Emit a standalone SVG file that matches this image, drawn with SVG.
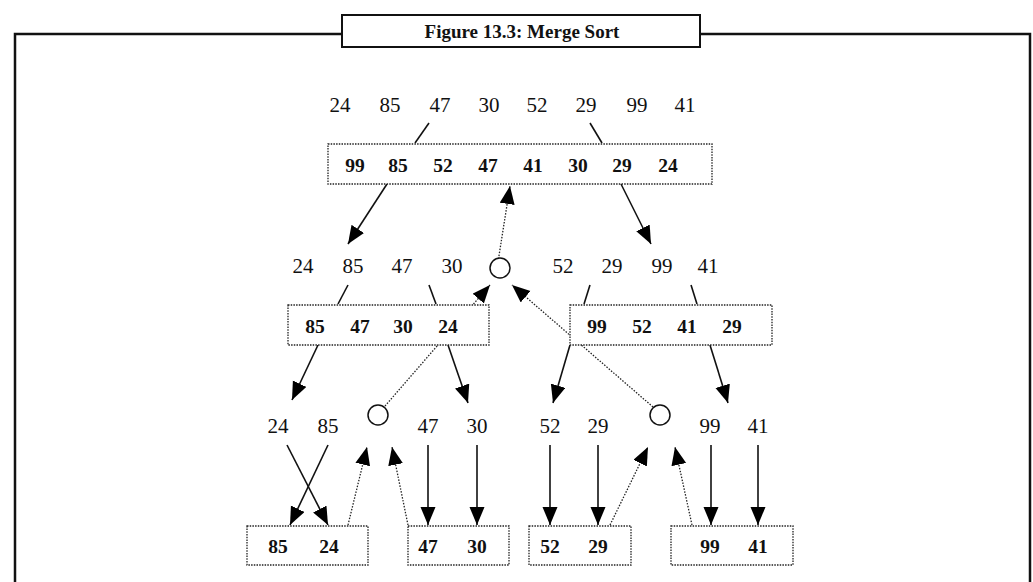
<svg xmlns="http://www.w3.org/2000/svg" width="1033" height="582" viewBox="0 0 1033 582">
<style>
.num{font-family:"Liberation Serif","Times New Roman",serif;font-size:21px;text-anchor:middle;fill:#111}
.bnum{font-family:"Liberation Serif","Times New Roman",serif;font-size:19.5px;font-weight:bold;text-anchor:middle;fill:#111}
.box{fill:#fff;stroke:#222;stroke-width:1.3;stroke-dasharray:1.5 1.2}
.solid{stroke:#111;stroke-width:1.6;fill:none}
.arr{stroke:#111;stroke-width:1.6;fill:none;marker-end:url(#ah)}
.darr{stroke:#222;stroke-width:1.3;stroke-dasharray:1.5 1.5;fill:none;marker-end:url(#ah)}
.circ{fill:#fff;stroke:#111;stroke-width:1.5}
</style>
<defs>
<marker id="ah" markerUnits="userSpaceOnUse" markerWidth="20" markerHeight="16" refX="18" refY="7.5" orient="auto">
<path d="M0,0 L18,7.5 L0,15 z" fill="#000"/>
</marker>
</defs>
<rect width="1033" height="582" fill="#fff"/>
<g id="frame">
<rect x="15" y="34" width="1015" height="600" fill="none" stroke="#111" stroke-width="2.5"/>
<rect x="342" y="15" width="358" height="32" fill="#fff" stroke="#111" stroke-width="2"/>
<text x="522" y="38" style="font-family:'Liberation Serif','Times New Roman',serif;font-size:19px;font-weight:bold;text-anchor:middle;fill:#111">Figure 13.3: Merge Sort</text>
</g>
<g id="connectors">
<line class="solid" x1="429" y1="123" x2="415" y2="143"/>
<line class="solid" x1="590" y1="123" x2="602" y2="143"/>
<line class="arr" x1="387" y1="184" x2="348" y2="244"/>
<line class="arr" x1="621" y1="184" x2="651" y2="244"/>
<line class="darr" x1="498" y1="262" x2="510" y2="186"/>
<line class="solid" x1="348" y1="285" x2="338" y2="304"/>
<line class="solid" x1="429" y1="285" x2="436" y2="304"/>
<line class="solid" x1="590" y1="285" x2="584" y2="304"/>
<line class="solid" x1="691" y1="285" x2="697" y2="304"/>
<line class="darr" x1="385" y1="406" x2="490" y2="285"/>
<line class="darr" x1="653" y1="407" x2="512" y2="285"/>
<line class="arr" x1="318" y1="345" x2="292" y2="400"/>
<line class="arr" x1="448" y1="345" x2="468" y2="403"/>
<line class="arr" x1="570" y1="345" x2="553" y2="403"/>
<line class="arr" x1="710" y1="345" x2="728" y2="403"/>
<line class="arr" x1="287" y1="445" x2="328" y2="525"/>
<line class="arr" x1="328" y1="445" x2="290" y2="525"/>
<line class="darr" x1="348" y1="525" x2="367" y2="447"/>
<line class="darr" x1="408" y1="525" x2="392" y2="447"/>
<line class="arr" x1="428" y1="445" x2="428" y2="525"/>
<line class="arr" x1="477" y1="445" x2="477" y2="525"/>
<line class="arr" x1="550" y1="445" x2="550" y2="525"/>
<line class="arr" x1="598" y1="445" x2="598" y2="525"/>
<line class="darr" x1="610" y1="525" x2="648" y2="447"/>
<line class="darr" x1="692" y1="525" x2="675" y2="447"/>
<line class="arr" x1="711" y1="445" x2="711" y2="525"/>
<line class="arr" x1="758" y1="445" x2="758" y2="525"/>
</g>
<g id="top-row">
<text class="num" x="340" y="112">24</text>
<text class="num" x="390" y="112">85</text>
<text class="num" x="440" y="112">47</text>
<text class="num" x="489" y="112">30</text>
<text class="num" x="537" y="112">52</text>
<text class="num" x="586" y="112">29</text>
<text class="num" x="637" y="112">99</text>
<text class="num" x="685" y="112">41</text>
</g>
<g id="box-top">
<rect class="box" x="328" y="144" width="384" height="40"/>
<text class="bnum" x="355" y="172">99</text>
<text class="bnum" x="398" y="172">85</text>
<text class="bnum" x="443" y="172">52</text>
<text class="bnum" x="488" y="172">47</text>
<text class="bnum" x="533" y="172">41</text>
<text class="bnum" x="578" y="172">30</text>
<text class="bnum" x="622" y="172">29</text>
<text class="bnum" x="668" y="172">24</text>
</g>
<g id="mid-row">
<text class="num" x="303" y="273">24</text>
<text class="num" x="353" y="273">85</text>
<text class="num" x="402" y="273">47</text>
<text class="num" x="452" y="273">30</text>
<circle class="circ" cx="500" cy="268" r="10"/>
<text class="num" x="563" y="273">52</text>
<text class="num" x="612" y="273">29</text>
<text class="num" x="662" y="273">99</text>
<text class="num" x="708" y="273">41</text>
</g>
<g id="box-mid-left">
<rect class="box" x="288" y="305" width="201" height="40"/>
<text class="bnum" x="315" y="333">85</text>
<text class="bnum" x="360" y="333">47</text>
<text class="bnum" x="403" y="333">30</text>
<text class="bnum" x="448" y="333">24</text>
</g>
<g id="box-mid-right">
<rect class="box" x="570" y="305" width="202" height="40"/>
<text class="bnum" x="597" y="333">99</text>
<text class="bnum" x="642" y="333">52</text>
<text class="bnum" x="687" y="333">41</text>
<text class="bnum" x="732" y="333">29</text>
</g>
<g id="low-row">
<text class="num" x="278" y="433">24</text>
<text class="num" x="328" y="433">85</text>
<circle class="circ" cx="378" cy="415" r="10"/>
<text class="num" x="428" y="433">47</text>
<text class="num" x="477" y="433">30</text>
<text class="num" x="550" y="433">52</text>
<text class="num" x="598" y="433">29</text>
<circle class="circ" cx="660" cy="415" r="10"/>
<text class="num" x="710" y="433">99</text>
<text class="num" x="758" y="433">41</text>
</g>
<g id="box-b1">
<rect class="box" x="247" y="526" width="121" height="39"/>
<text class="bnum" x="278" y="553">85</text>
<text class="bnum" x="329" y="553">24</text>
</g>
<g id="box-b2">
<rect class="box" x="408" y="526" width="101" height="39"/>
<text class="bnum" x="428" y="553">47</text>
<text class="bnum" x="477" y="553">30</text>
</g>
<g id="box-b3">
<rect class="box" x="529" y="526" width="102" height="39"/>
<text class="bnum" x="550" y="553">52</text>
<text class="bnum" x="598" y="553">29</text>
</g>
<g id="box-b4">
<rect class="box" x="671" y="526" width="122" height="39"/>
<text class="bnum" x="710" y="553">99</text>
<text class="bnum" x="758" y="553">41</text>
</g>
</svg>
